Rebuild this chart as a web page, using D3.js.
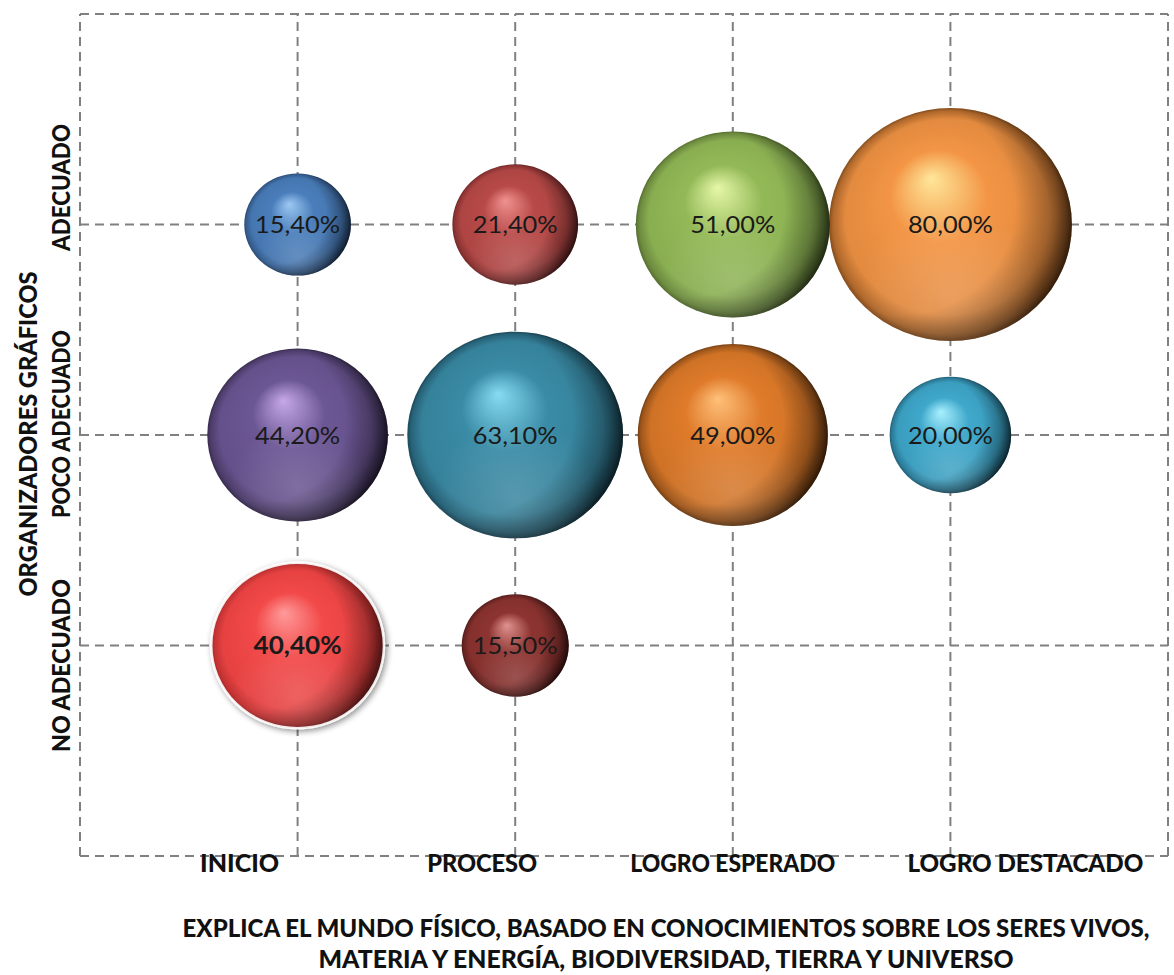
<!DOCTYPE html>
<html>
<head>
<meta charset="utf-8">
<script src="https://cdn.jsdelivr.net/npm/d3@7"></script>
<style>
  html, body { margin: 0; padding: 0; background: #ffffff; }
  svg { display: block; }
  text { font-family: Lato, "Open Sans", "DejaVu Sans", sans-serif; }
</style>
</head>
<body>
<svg id="chart" width="1174" height="975"></svg>
<script>
// ---------------- DATA ----------------
const xCategories = ["INICIO", "PROCESO", "LOGRO ESPERADO", "LOGRO DESTACADO"];
const yCategories = ["NO ADECUADO", "POCO ADECUADO", "ADECUADO"];
const bubbleX = [1, 2, 3, 4, 1, 2, 3, 4, 1, 2];
const bubbleY = [3, 3, 3, 3, 2, 2, 2, 2, 1, 1];
const bubbleValues = [15.4, 21.4, 51.0, 80.0, 44.2, 63.1, 49.0, 20.0, 40.4, 15.5];
const bubbleLabels = ["15,40%", "21,40%", "51,00%", "80,00%", "44,20%", "63,10%", "49,00%", "20,00%", "40,40%", "15,50%"];
const xTitleLines = ["EXPLICA EL MUNDO FÍSICO, BASADO EN CONOCIMIENTOS SOBRE LOS SERES VIVOS,",
                     "MATERIA Y ENERGÍA, BIODIVERSIDAD, TIERRA Y UNIVERSO"];
const yTitle = "ORGANIZADORES GRÁFICOS";

// ---------------- STYLE ----------------
// [highlight, base, edge]
const palette = [
  ["#9cc8f2", "#4a7ebb", "#15294a"],
  ["#f09290", "#b84a48", "#4a1413"],
  ["#e6f7a8", "#93b957", "#33461a"],
  ["#ffe79a", "#f39545", "#4a2406"],
  ["#c6a8e8", "#6c5795", "#1c1428"],
  ["#86dcf2", "#3a8ba6", "#0a2430"],
  ["#ffc07a", "#df7b2a", "#3d1f05"],
  ["#a8f0ff", "#3fa8cb", "#0d3646"],
  ["#ff9a9a", "#f24848", "#7a1010"],
  ["#e09290", "#8d3431", "#2e0b0a"]
];
const xLabelOffsets = [-58, -33, 0, 75];
const xLabelWidths = [79, 110, 205, 236];
const yLabelOffsets = [20, -11, -37];
const yLabelWidths = [173, 188, 127];

const svg = d3.select("#chart");
const plot = { left: 80, right: 1168, top: 14, bottom: 856 };

const x = d3.scaleLinear().domain([0, 5]).range([plot.left, plot.right]);
const y = d3.scaleLinear().domain([0, 4]).range([plot.bottom, plot.top]);
const r = d3.scaleSqrt().domain([0, 80]).range([0, 121.5]);
const aspect = 0.958;

const defs = svg.append("defs");
palette.forEach((c, i) => {
  const g = defs.append("radialGradient").attr("id", "g" + i)
    .attr("cx", "0.5").attr("cy", "0.5").attr("r", "0.5")
    .attr("fx", "0.42").attr("fy", "0.3");
  g.append("stop").attr("offset", "0").attr("stop-color", c[0]);
  g.append("stop").attr("offset", "0.4").attr("stop-color", c[1]);
  g.append("stop").attr("offset", "0.84").attr("stop-color", d3.interpolateRgb(c[1], c[2])(0.1));
  g.append("stop").attr("offset", "0.96").attr("stop-color", d3.interpolateRgb(c[1], c[2])(0.4));
  g.append("stop").attr("offset", "1").attr("stop-color", d3.interpolateRgb(c[1], c[2])(0.65));
});
// right-side shadow overlay (smooth radial)
const sh = defs.append("radialGradient").attr("id", "sideShade")
  .attr("cx", "0.3").attr("cy", "0.42").attr("r", "0.75");
sh.append("stop").attr("offset", "0").attr("stop-color", "#000").attr("stop-opacity", 0);
sh.append("stop").attr("offset", "0.62").attr("stop-color", "#000").attr("stop-opacity", 0);
sh.append("stop").attr("offset", "0.85").attr("stop-color", "#000").attr("stop-opacity", 0.35);
sh.append("stop").attr("offset", "1").attr("stop-color", "#000").attr("stop-opacity", 0.75);
// bottom reflection
const refl = defs.append("radialGradient").attr("id", "refl")
  .attr("cx", "0.5").attr("cy", "0.8").attr("r", "0.38");
refl.append("stop").attr("offset", "0").attr("stop-color", "#fff").attr("stop-opacity", 0.16);
refl.append("stop").attr("offset", "1").attr("stop-color", "#fff").attr("stop-opacity", 0);

const shadow = defs.append("filter").attr("id", "shadow")
  .attr("x", "-20%").attr("y", "-20%").attr("width", "140%").attr("height", "140%");
shadow.append("feGaussianBlur").attr("in", "SourceAlpha").attr("stdDeviation", 3).attr("result", "b");
shadow.append("feOffset").attr("in", "b").attr("dx", 2).attr("dy", 2).attr("result", "o");
shadow.append("feComponentTransfer").attr("in", "o").attr("result", "o2")
  .append("feFuncA").attr("type", "linear").attr("slope", 0.45);
const m = shadow.append("feMerge");
m.append("feMergeNode").attr("in", "o2");
m.append("feMergeNode").attr("in", "SourceGraphic");

// ---------------- GRID ----------------
const grid = svg.append("g").attr("stroke", "#808080").attr("stroke-width", 2)
  .attr("stroke-dasharray", "9,6").attr("fill", "none");
d3.range(0, 6).forEach(i => {
  grid.append("line").attr("x1", x(i)).attr("x2", x(i)).attr("y1", y(0)).attr("y2", y(4));
});
d3.range(0, 5).forEach(j => {
  grid.append("line").attr("x1", x(0)).attr("x2", x(5)).attr("y1", y(j)).attr("y2", y(j));
});

// ---------------- BUBBLES ----------------
const data = bubbleValues.map((v, i) => ({ v, cx: bubbleX[i], cy: bubbleY[i], label: bubbleLabels[i], i }));
const order = data.slice().sort((a, b) => b.v - a.v);
const bg = svg.append("g");
order.forEach(d => {
  const g = bg.append("g");
  const rx = r(d.v), ry = r(d.v) * aspect;
  g.append("ellipse").attr("cx", x(d.cx)).attr("cy", y(d.cy))
    .attr("rx", rx).attr("ry", ry).attr("fill", `url(#g${d.i})`);
  g.append("ellipse").attr("cx", x(d.cx)).attr("cy", y(d.cy))
    .attr("rx", rx).attr("ry", ry).attr("fill", "url(#sideShade)");
  g.append("ellipse").attr("cx", x(d.cx)).attr("cy", y(d.cy))
    .attr("rx", rx).attr("ry", ry).attr("fill", "url(#refl)");
  if (d.i === 8) {
    g.attr("filter", "url(#shadow)");
    g.append("ellipse").attr("cx", x(d.cx)).attr("cy", y(d.cy))
      .attr("rx", rx).attr("ry", ry).attr("fill", "none")
      .attr("stroke", "#ffffff").attr("stroke-width", 2.5).attr("stroke-opacity", 0.9);
  }
});
svg.append("g").selectAll("text").data(data).join("text")
  .attr("x", d => x(d.cx)).attr("y", d => y(d.cy)).attr("dy", "0.36em")
  .attr("text-anchor", "middle")
  .attr("font-size", 24)
  .attr("font-weight", d => d.i === 8 ? 700 : 400)
  .attr("fill", "#1a1a1a")
  .attr("textLength", d => d.i === 8 ? 88 : 85).attr("lengthAdjust", "spacingAndGlyphs")
  .text(d => d.label);

// ---------------- AXIS LABELS ----------------
svg.append("g").selectAll("text").data(xCategories).join("text")
  .attr("x", (d, i) => x(i + 1) + xLabelOffsets[i])
  .attr("y", 872)
  .attr("text-anchor", "middle")
  .attr("font-size", 25).attr("font-weight", 900).attr("fill", "#111")
  .attr("textLength", (d, i) => xLabelWidths[i]).attr("lengthAdjust", "spacingAndGlyphs")
  .text(d => d);

svg.append("g").selectAll("text").data(yCategories).join("text")
  .attr("transform", (d, i) => `translate(70,${y(i + 1) + yLabelOffsets[i]}) rotate(-90)`)
  .attr("text-anchor", "middle")
  .attr("font-size", 25).attr("font-weight", 900).attr("fill", "#111")
  .attr("textLength", (d, i) => yLabelWidths[i]).attr("lengthAdjust", "spacingAndGlyphs")
  .text(d => d);

svg.append("text")
  .attr("transform", `translate(37,${434}) rotate(-90)`)
  .attr("text-anchor", "middle")
  .attr("font-size", 25).attr("font-weight", 900).attr("fill", "#111")
  .attr("textLength", 325).attr("lengthAdjust", "spacingAndGlyphs")
  .text(yTitle);

const titleWidths = [967, 695];
svg.append("g").selectAll("text").data(xTitleLines).join("text")
  .attr("x", 666).attr("y", (d, i) => 937 + i * 31)
  .attr("text-anchor", "middle")
  .attr("font-size", 24).attr("font-weight", 900).attr("fill", "#111")
  .attr("textLength", (d, i) => titleWidths[i]).attr("lengthAdjust", "spacingAndGlyphs")
  .text(d => d);
</script>
</body>
</html>
